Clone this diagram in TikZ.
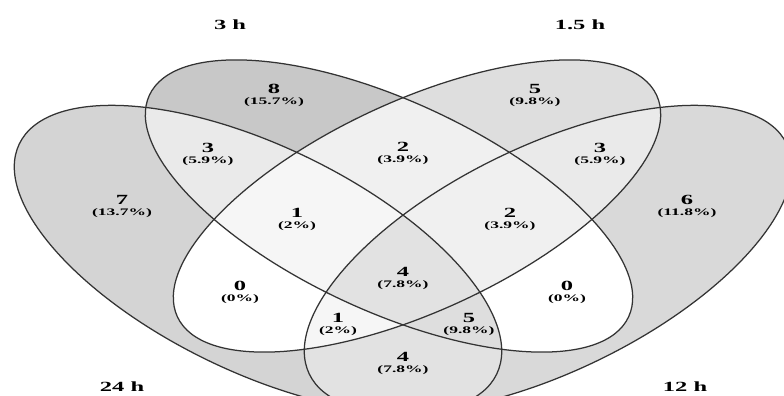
\documentclass[tikz,border=0pt]{standalone}
\usepackage{fontspec}
\newfontfamily\vennfont[FakeStretch=1.75]{Liberation Serif}

% grey levels for the region counts
\definecolor{g8}{gray}{0.784}
\definecolor{g7}{gray}{0.831}
\definecolor{g6}{gray}{0.851}
\definecolor{g5}{gray}{0.871}
\definecolor{g4}{gray}{0.886}
\definecolor{g3}{gray}{0.918}
\definecolor{g2}{gray}{0.941}
\definecolor{g1}{gray}{0.965}
\definecolor{g0}{gray}{1}
\definecolor{rim}{gray}{0.2}

% the four sets: 24 h (A), 3 h (B), 1.5 h (C), 12 h (D)
\newcommand\ovalA[1]{\path[#1,rotate around={-25.75:(258,259)}] (258,259) ellipse (265pt and 113pt);}
\newcommand\ovalB[1]{\path[#1,rotate around={-24.8:(389,206)}] (389,206) ellipse (264pt and 105pt);}
\newcommand\ovalC[1]{\path[#1,rotate around={24.8:(417,206)}] (417,206) ellipse (264pt and 105pt);}
\newcommand\ovalD[1]{\path[#1,rotate around={25.75:(548,259)}] (548,259) ellipse (265pt and 113pt);}

% count and percentage of one region
\newcommand\countlabel[4]{%
  \node[countnum] (#1) at (#2) {#3};
  \node[countpct] (#1p) at ([yshift=-13pt]#1.center) {(#4\%)};}

\begin{document}
\begin{tikzpicture}[x=1pt,y=-1pt,
  countnum/.style={font=\vennfont\bfseries\fontsize{14}{14}\selectfont, inner sep=0pt},
  countpct/.style={font=\vennfont\bfseries\fontsize{10}{10}\selectfont, inner sep=0pt},
  settitle/.style={font=\vennfont\bfseries\fontsize{14}{14}\selectfont, inner sep=0pt},
  rimline/.style={draw=rim, line width=1.25pt}]
\useasboundingbox (0,0) rectangle (784,396);
\fill[white] (0,0) rectangle (784,396);

\begin{scope}
\clip (0,0) rectangle (784,396);
% single sets
\ovalA{fill=g7}
\ovalB{fill=g8}
\ovalC{fill=g5}
\ovalD{fill=g6}
% pairs
\begin{scope}\ovalA{clip}\ovalB{fill=g3}\end{scope}
\begin{scope}\ovalA{clip}\ovalC{fill=g0}\end{scope}
\begin{scope}\ovalA{clip}\ovalD{fill=g4}\end{scope}
\begin{scope}\ovalB{clip}\ovalC{fill=g2}\end{scope}
\begin{scope}\ovalB{clip}\ovalD{fill=g0}\end{scope}
\begin{scope}\ovalC{clip}\ovalD{fill=g3}\end{scope}
% triples
\begin{scope}\ovalA{clip}\ovalB{clip}\ovalC{fill=g1}\end{scope}
\begin{scope}\ovalA{clip}\ovalB{clip}\ovalD{fill=g5}\end{scope}
\begin{scope}\ovalA{clip}\ovalC{clip}\ovalD{fill=g1}\end{scope}
\begin{scope}\ovalB{clip}\ovalC{clip}\ovalD{fill=g2}\end{scope}
% all four
\begin{scope}\ovalA{clip}\ovalB{clip}\ovalC{clip}\ovalD{fill=g4}\end{scope}
% outlines
\ovalA{rimline}
\ovalB{rimline}
\ovalC{rimline}
\ovalD{rimline}
\end{scope}

% region counts
\countlabel{rA}{122,200}{7}{13.7}
\countlabel{rB}{274,89}{8}{15.7}
\countlabel{rC}{535,89}{5}{9.8}
\countlabel{rD}{687,200}{6}{11.8}
\countlabel{rAB}{208,148}{3}{5.9}
\countlabel{rBC}{403,147}{2}{3.9}
\countlabel{rCD}{600,148}{3}{5.9}
\countlabel{rABC}{297,213}{1}{2}
\countlabel{rBCD}{510,213}{2}{3.9}
\countlabel{rAC}{240,286}{0}{0}
\countlabel{rBD}{567,286}{0}{0}
\countlabel{rABCD}{403,272}{4}{7.8}
\countlabel{rACD}{338,318}{1}{2}
\countlabel{rABD}{469,318}{5}{9.8}
\countlabel{rAD}{403,357}{4}{7.8}

% set names
\node[settitle] (tB) at (230,25) {3 h};
\node[settitle] (tC) at (580,25) {1.5 h};
\node[settitle] (tA) at (122,387) {24 h};
\node[settitle] (tD) at (685,387) {12 h};
\end{tikzpicture}
\end{document}
